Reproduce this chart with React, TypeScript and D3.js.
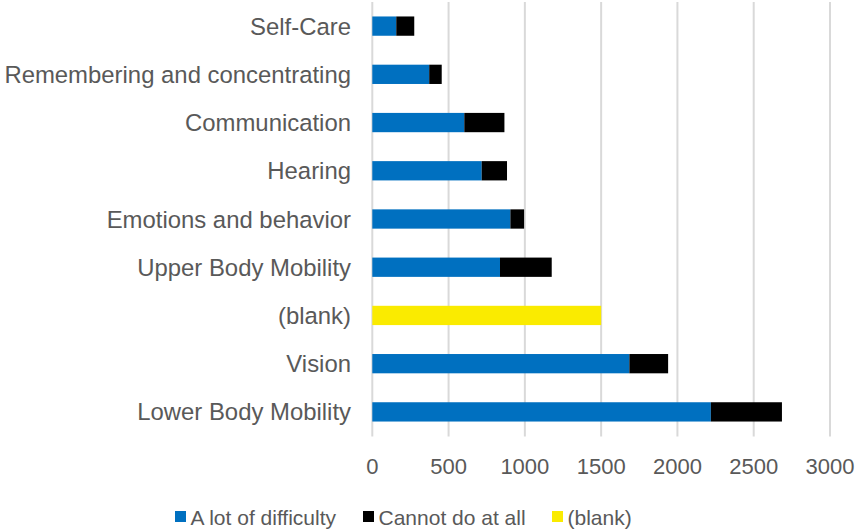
import * as d3 from "d3";

const width = 856;
const height = 530;

const categories = [
  "Self-Care",
  "Remembering and concentrating",
  "Communication",
  "Hearing",
  "Emotions and behavior",
  "Upper Body Mobility",
  "(blank)",
  "Vision",
  "Lower Body Mobility",
];
const aLotOfDifficulty = [157, 373, 603, 717, 905, 837, 0, 1685, 2219];
const cannotDoAtAll = [118, 82, 263, 166, 90, 339, 0, 254, 466];
const blankSeries = [0, 0, 0, 0, 0, 0, 1500, 0, 0];
const seriesNames = ["A lot of difficulty", "Cannot do at all", "(blank)"];
const seriesColors = ["#0070C0", "#000000", "#FAEB00"];
const xTicks = [0, 500, 1000, 1500, 2000, 2500, 3000];

const textColor = "#595959";
const font = "'Liberation Sans', Arial, sans-serif";

export default function App() {
  const rows = categories.map((c, i) => ({
    category: c,
    [seriesNames[0]]: aLotOfDifficulty[i],
    [seriesNames[1]]: cannotDoAtAll[i],
    [seriesNames[2]]: blankSeries[i],
  }));
  const stacked = d3.stack<any>().keys(seriesNames)(rows);

  const x = d3.scaleLinear().domain([0, 3000]).range([372.3, 830]);
  const y = d3
    .scaleBand()
    .domain(categories)
    .range([2, 436])
    .paddingInner(0.6)
    .paddingOuter(0.3);

  // legend squares x; text sits just right of each
  const legendX = [175, 363, 552];

  return (
    <svg
      width={width}
      height={height}
      style={{ position: "absolute", left: 0, top: 0, background: "#fff" }}
      fontFamily={font}
    >
      <g className="grid">
        {xTicks.map((t) => (
          <line
            key={t}
            x1={x(t)}
            x2={x(t)}
            y1={2}
            y2={436.5}
            stroke="#D9D9D9"
            strokeWidth={2}
          />
        ))}
      </g>
      <g className="bars">
        {stacked.map((s, si) => (
          <g key={s.key} fill={seriesColors[si]}>
            {s.map((d, i) =>
              d[1] - d[0] > 0 ? (
                <rect
                  key={i}
                  x={x(d[0])}
                  y={y(categories[i])}
                  width={x(d[1]) - x(d[0])}
                  height={y.bandwidth()}
                />
              ) : null
            )}
          </g>
        ))}
      </g>
      <g className="y-labels" fill={textColor} fontSize={23.9}>
        {categories.map((c) => (
          <text
            key={c}
            x={351}
            y={y(c)! + y.bandwidth() / 2}
            textAnchor="end"
            dominantBaseline="central"
          >
            {c}
          </text>
        ))}
      </g>
      <g className="x-labels" fill={textColor} fontSize={22}>
        {xTicks.map((t) => (
          <text key={t} x={x(t)} y={466} textAnchor="middle" dominantBaseline="central">
            {t}
          </text>
        ))}
      </g>
      <g className="legend" fontSize={21} fill={textColor}>
        {seriesNames.map((n, i) => (
          <g key={n}>
            <rect x={legendX[i]} y={511} width={11} height={11} fill={seriesColors[i]} />
            <text x={legendX[i] + 15.5} y={517} dominantBaseline="central">
              {n}
            </text>
          </g>
        ))}
      </g>
    </svg>
  );
}
